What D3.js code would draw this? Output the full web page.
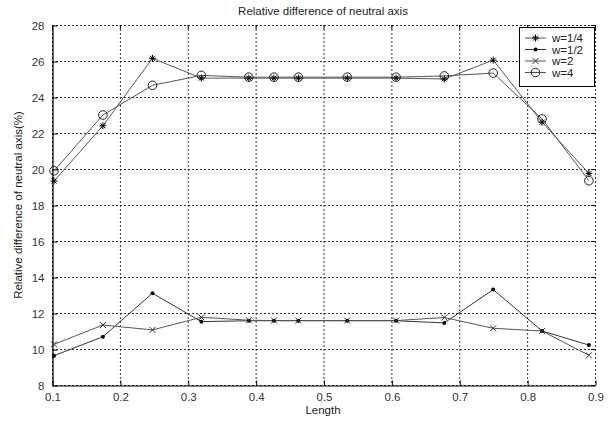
<!DOCTYPE html>
<html><head><meta charset="utf-8">
<script src="https://cdn.jsdelivr.net/npm/d3@7"></script>
<style>
body{margin:0;background:#fff;}
text{font-family:"Liberation Sans",Arial,sans-serif;}
</style></head>
<body><svg id="c" width="613" height="424"></svg>
<script>
const lengths = [0.103, 0.175, 0.248, 0.32, 0.39, 0.427, 0.463, 0.535, 0.607, 0.678, 0.75, 0.822, 0.891];
const w14 = [19.33, 22.4, 26.15, 25.05, 25.05, 25.05, 25.05, 25.05, 25.05, 25.0, 26.05, 22.6, 19.75];
const w12 = [9.63, 10.68, 13.1, 11.52, 11.57, 11.57, 11.57, 11.57, 11.57, 11.45, 13.3, 11.0, 10.22];
const w2  = [10.26, 11.33, 11.06, 11.76, 11.6, 11.58, 11.58, 11.58, 11.58, 11.75, 11.15, 11.0, 9.65];
const w4  = [19.9, 23.0, 24.65, 25.2, 25.1, 25.1, 25.1, 25.1, 25.1, 25.17, 25.33, 22.78, 19.35];
const seriesNames = ["w=1/4", "w=1/2", "w=2", "w=4"];
const seriesData = [w14, w12, w2, w4];
const markers = ["star", "dot", "x", "circle"];
const xTicks = [0.1, 0.2, 0.3, 0.4, 0.5, 0.6, 0.7, 0.8, 0.9];
const yTicks = [8, 10, 12, 14, 16, 18, 20, 22, 24, 26, 28];

const svg = d3.select("#c");
const L = 52, R = 595, T = 25, B = 385;
const x = d3.scaleLinear().domain([0.1, 0.9]).range([L, R]);
const y = d3.scaleLinear().domain([8, 28]).range([B, T]);

// grid
const g = svg.append("g");
g.selectAll(".vg").data(xTicks).join("line")
  .attr("x1", d => x(d) + 0.5).attr("x2", d => x(d) + 0.5)
  .attr("y1", T).attr("y2", B)
  .attr("stroke", "#333").attr("stroke-width", 1).attr("stroke-dasharray", "2,2");
g.selectAll(".hg").data(yTicks).join("line")
  .attr("x1", L).attr("x2", R)
  .attr("y1", d => y(d) + 0.5).attr("y2", d => y(d) + 0.5)
  .attr("stroke", "#333").attr("stroke-width", 1).attr("stroke-dasharray", "2,2");

// axes
const xAxis = d3.axisBottom(x).tickValues(xTicks).tickFormat(d3.format("")).tickSizeInner(-5).tickSizeOuter(0).tickPadding(9);
const yAxis = d3.axisLeft(y).tickValues(yTicks).tickSizeInner(-5).tickSizeOuter(0).tickPadding(8);
const gx = svg.append("g").attr("transform", `translate(0.5,${B + 0.5})`).call(xAxis);
const gy = svg.append("g").attr("transform", `translate(${L + 0.5},0.5)`).call(yAxis);
[gx, gy].forEach(a => {
  a.select(".domain").attr("stroke", "#000").attr("stroke-width", 1.2);
  a.selectAll(".tick line").attr("stroke", "#000");
  a.selectAll(".tick text").attr("font-size", 11.5).attr("fill", "#333")
    .attr("font-family", "Liberation Sans, Arial, sans-serif");
});
gx.selectAll(".tick text").attr("dy", "0.55em");
// top / right small ticks
svg.append("g").selectAll("line").data(xTicks).join("line")
  .attr("x1", d => x(d) + 0.5).attr("x2", d => x(d) + 0.5).attr("y1", T).attr("y2", T + 4)
  .attr("stroke", "#000");
svg.append("g").selectAll("line").data(yTicks).join("line")
  .attr("x1", R - 4).attr("x2", R).attr("y1", d => y(d) + 0.5).attr("y2", d => y(d) + 0.5)
  .attr("stroke", "#000");

// lines
const lineGen = d3.line().x((d, i) => x(lengths[i])).y(d => y(d));
const lineColors = ["#555", "#333", "#555", "#555"];
seriesData.forEach((s, k) => {
  svg.append("path").datum(s).attr("d", lineGen)
    .attr("fill", "none").attr("stroke", lineColors[k]).attr("stroke-width", 1);
});

function drawMarker(sel, type, cx, cy) {
  if (type === "star") {
    const r = 3.5, q = 2.5;
    sel.append("path").attr("d",
      `M${cx - r},${cy}L${cx + r},${cy}M${cx},${cy - r}L${cx},${cy + r}` +
      `M${cx - q},${cy - q}L${cx + q},${cy + q}M${cx - q},${cy + q}L${cx + q},${cy - q}`)
      .attr("stroke", "#000").attr("stroke-width", 1).attr("fill", "none");
  } else if (type === "dot") {
    sel.append("circle").attr("cx", cx).attr("cy", cy).attr("r", 2).attr("fill", "#000");
  } else if (type === "x") {
    const r = 3;
    sel.append("path").attr("d", `M${cx - r},${cy - r}L${cx + r},${cy + r}M${cx - r},${cy + r}L${cx + r},${cy - r}`)
      .attr("stroke", "#333").attr("stroke-width", 1).attr("fill", "none");
  } else {
    sel.append("circle").attr("cx", cx).attr("cy", cy).attr("r", 4.3)
      .attr("fill", "none").attr("stroke", "#222").attr("stroke-width", 1);
  }
}
seriesData.forEach((s, k) => {
  const mg = svg.append("g");
  s.forEach((v, i) => drawMarker(mg, markers[k], x(lengths[i]), y(v)));
});

// titles
svg.append("text").attr("x", 323).attr("y", 15).attr("text-anchor", "middle")
  .attr("font-size", 11.5).attr("fill", "#222").text("Relative difference of neutral axis");
svg.append("text").attr("x", 323).attr("y", 414).attr("text-anchor", "middle")
  .attr("font-size", 11.5).attr("fill", "#222").text("Length");
svg.append("text").attr("transform", "translate(22,205) rotate(-90)").attr("text-anchor", "middle")
  .attr("font-size", 11.5).attr("fill", "#222").text("Relative difference of neutral axis(%)");

// legend
const lg = svg.append("g");
lg.append("rect").attr("x", 519.5).attr("y", 27.5).attr("width", 75).attr("height", 59)
  .attr("fill", "#fff").attr("stroke", "#000").attr("stroke-width", 1);
seriesNames.forEach((n, k) => {
  const yy = 38 + k * 11.5;
  lg.append("line").attr("x1", 525).attr("x2", 546).attr("y1", yy).attr("y2", yy)
    .attr("stroke", lineColors[k]).attr("stroke-width", 1);
  drawMarker(lg, markers[k], 535.5, yy);
  lg.append("text").attr("x", 552).attr("y", yy + 4).attr("font-size", 11.5).attr("fill", "#222").text(n);
});
</script></body></html>
